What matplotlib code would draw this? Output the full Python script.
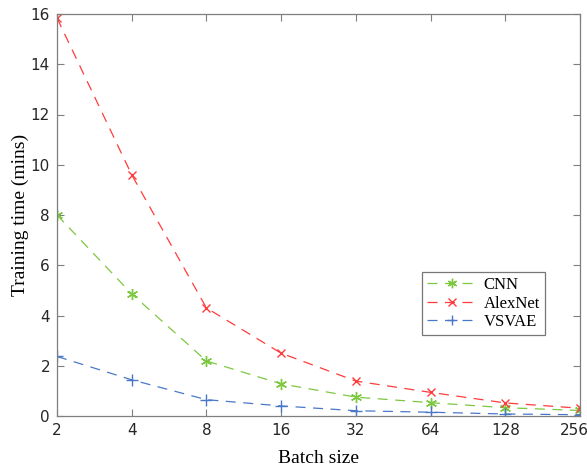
import matplotlib
matplotlib.use("Agg")
import matplotlib.pyplot as plt
import matplotlib.transforms as mtransforms
import numpy as np

batch = [2, 4, 8, 16, 32, 64, 128, 256]
cnn = [8.0, 4.86, 2.19, 1.28, 0.75, 0.53, 0.33, 0.22]
alexnet = [15.84, 9.6, 4.3, 2.5, 1.39, 0.94, 0.52, 0.31]
vsvae = [2.37, 1.44, 0.65, 0.40, 0.21, 0.15, 0.08, 0.05]
yticks = [0, 2, 4, 6, 8, 10, 12, 14, 16]

W, H = 587, 466
fig = plt.figure(figsize=(W/100, H/100), dpi=100)
ax = fig.add_axes([57/W, 1-416/H, (580-57)/W, (416-14)/H])

dash = (0, (8, 6))
ax.plot(batch, cnn, color='#7dc840', linestyle=dash, linewidth=0.9, marker=(6, 2, 0),
        markersize=8, markeredgewidth=1.0, label='CNN')
ax.plot(batch, alexnet, color='#ff3b3b', linestyle=dash, linewidth=0.9, marker='x',
        markersize=6, markeredgewidth=1.0, label='AlexNet')
ax.plot(batch, vsvae, color='#4a78c8', linestyle=dash, linewidth=0.9, marker='+',
        markersize=8, markeredgewidth=1.0, label='VSVAE')

ax.set_xscale('log', base=2)
ax.set_xlim(2, 256)
ax.set_ylim(0, 16)
ax.set_xticks(batch)
ax.set_xticklabels([str(b) for b in batch])
ax.minorticks_off()
ax.set_yticks(yticks)
ax.set_yticklabels([str(t) for t in yticks])

for s in ax.spines.values():
    s.set_color('#7f7f7f')
    s.set_linewidth(0.9)
ax.tick_params(direction='in', top=True, right=True, length=5, width=0.8,
               color='#7f7f7f', labelsize=11, labelcolor='#262626', pad=5)
for lab in ax.get_xticklabels() + ax.get_yticklabels():
    lab.set_family('DejaVu Sans')
last = ax.get_xticklabels()[-1]
last.set_transform(last.get_transform() + mtransforms.ScaledTranslation(-6/100, 0, fig.dpi_scale_trans))

ax.set_xlabel('Batch size', family='Liberation Serif', fontsize=14, labelpad=9)
ax.set_ylabel('Training time (mins)', family='Liberation Serif', fontsize=14, labelpad=1)

leg = ax.legend(loc='upper left', bbox_to_anchor=((422-57)/(580-57), 1-(272-14)/(416-14)),
                prop={'family': 'Liberation Serif', 'size': 12}, frameon=True, fancybox=False,
                edgecolor='#555555', handlelength=3.0, borderpad=0.3, labelspacing=0.15,
                handletextpad=0.4, borderaxespad=0, markerscale=0.85)
leg.get_frame().set_linewidth(0.9)

fig.savefig('out.png', dpi=100)
